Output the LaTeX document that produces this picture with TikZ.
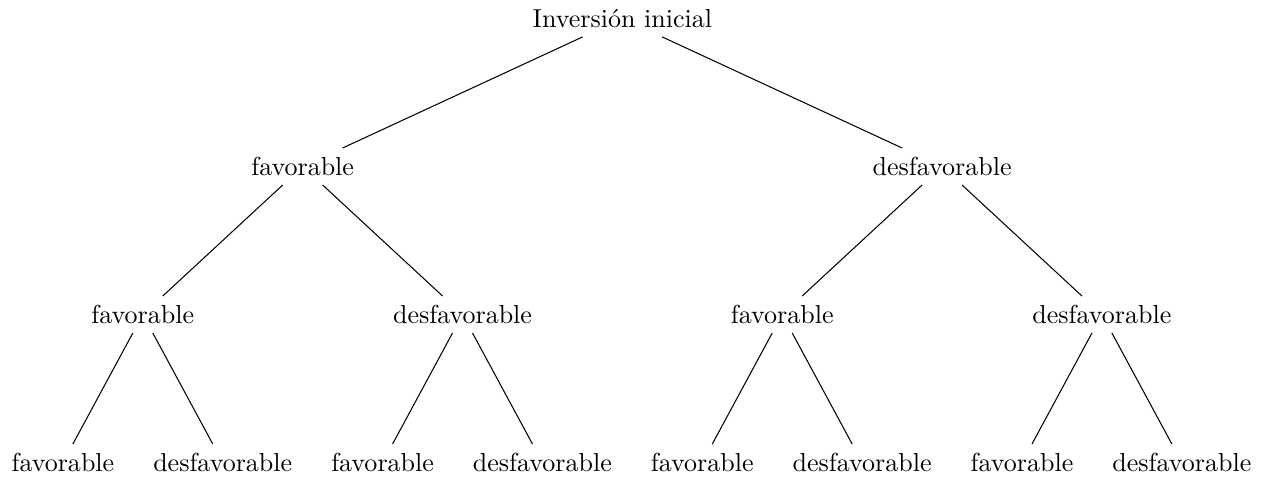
\documentclass[tikz,border=0pt]{standalone}
\usepackage{tikz}
\usetikzlibrary{positioning}

\begin{document}
\begin{tikzpicture}[
  hoja/.style={inner sep=3.33pt},
  rama/.style={draw,line width=0.4pt}]
  \useasboundingbox (-8.41,0.25) rectangle (8.67,-6.25);
  % raiz y primer nivel
  \node[hoja] (ini) at (0,0)      {Inversión inicial};
  \node[hoja] (f)   at (-4.32,-2) {favorable};
  \node[hoja] (d)   at (4.32,-2)  {desfavorable};
  % segundo nivel
  \node[hoja] (ff)  at (-6.48,-4) {favorable};
  \node[hoja] (fd)  at (-2.16,-4) {desfavorable};
  \node[hoja] (df)  at (2.16,-4)  {favorable};
  \node[hoja] (dd)  at (6.48,-4)  {desfavorable};
  % tercer nivel
  \node[hoja] (fff) at (-7.56,-6) {favorable};
  \node[hoja] (ffd) at (-5.40,-6) {desfavorable};
  \node[hoja] (fdf) at (-3.24,-6) {favorable};
  \node[hoja] (fdd) at (-1.08,-6) {desfavorable};
  \node[hoja] (dff) at (1.08,-6)  {favorable};
  \node[hoja] (dfd) at (3.24,-6)  {desfavorable};
  \node[hoja] (ddf) at (5.40,-6)  {favorable};
  \node[hoja] (ddd) at (7.56,-6)  {desfavorable};
  % ramas
  \draw[rama] (ini) -- (f);
  \draw[rama] (ini) -- (d);
  \draw[rama] (f) -- (ff);
  \draw[rama] (f) -- (fd);
  \draw[rama] (d) -- (df);
  \draw[rama] (d) -- (dd);
  \draw[rama] (ff) -- (fff);
  \draw[rama] (ff) -- (ffd);
  \draw[rama] (fd) -- (fdf);
  \draw[rama] (fd) -- (fdd);
  \draw[rama] (df) -- (dff);
  \draw[rama] (df) -- (dfd);
  \draw[rama] (dd) -- (ddf);
  \draw[rama] (dd) -- (ddd);
\end{tikzpicture}
\end{document}
